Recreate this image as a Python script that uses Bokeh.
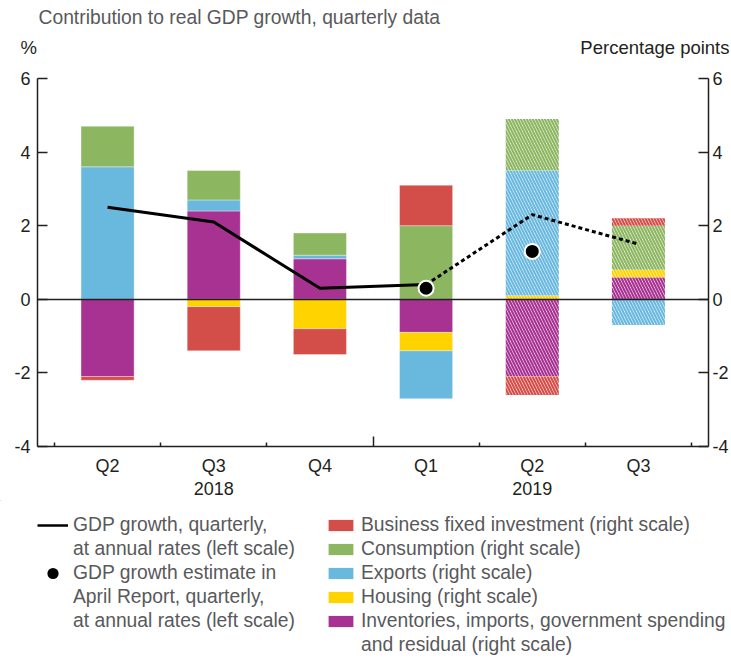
import numpy as np
from bokeh.plotting import figure
from bokeh.layouts import column
from bokeh.models import (Range1d, LinearAxis, FixedTicker, Label, Legend,
                          LegendItem, ColumnDataSource)
from bokeh.embed import file_html
from bokeh.resources import INLINE

# ---------------- data ----------------
quarters = ["Q2", "Q3", "Q4", "Q1", "Q2", "Q3"]
years = ["2018", "2019"]
year_pos = [1, 4]
projected = [False, False, False, False, True, True]

gdp_growth = [2.5, 2.1, 0.3, 0.4, 2.3, 1.5]          # left scale, %
april_pos = [3, 4]
april_estimate = [0.3, 1.3]                           # left scale, %

inventories = [-2.1, 2.4, 1.1, -0.9, -2.1, 0.6]       # right scale, pp
housing = [0.0, -0.2, -0.8, -0.5, 0.1, 0.2]
exports = [3.6, 0.3, 0.1, -1.3, 3.4, -0.7]
consumption = [1.1, 0.8, 0.6, 2.0, 1.4, 1.2]
business = [-0.1, -1.2, -0.7, 1.1, -0.5, 0.2]

y_ticks = [-4, -2, 0, 2, 4, 6]

title_text = "Contribution to real GDP growth, quarterly data"
left_unit = "%"
right_unit = "Percentage points"

RED = "#D34E48"
GREEN = "#8DB661"
BLUE = "#69B8DE"
YELLOW = "#FFD300"
PURPLE = "#A83291"
INK = "#231F20"
GREY = "#58595B"
FONT = "Liberation Sans"
W = 731
HEAD_H, MAIN_H, LEG_H = 60, 440, 158


def bare_fig(h):
    f = figure(width=W, height=h, x_range=Range1d(0, W), y_range=Range1d(h, 0),
               min_border=0, min_border_left=0, min_border_right=0,
               min_border_top=0, min_border_bottom=0, title=None,
               x_axis_location=None, y_axis_location=None, frame_align=False,
               output_backend="svg", toolbar_location=None)
    f.grid.visible = False
    f.outline_line_color = None
    return f


# ---------------- header ----------------
head = bare_fig(HEAD_H)
head.add_layout(Label(x=38, y=16.5, text=title_text, text_font=FONT,
                      text_font_size="19.3px", text_color=GREY,
                      text_baseline="middle", text_align="left"))
head.add_layout(Label(x=20, y=46.5, text=left_unit, text_font=FONT,
                      text_font_size="18.5px", text_color=INK,
                      text_baseline="middle", text_align="left"))
head.add_layout(Label(x=729, y=46.5, text=right_unit, text_font=FONT,
                      text_font_size="18.5px", text_color=INK,
                      text_baseline="middle", text_align="right"))

# ---------------- main chart ----------------
p = figure(width=W, height=MAIN_H, x_range=Range1d(-0.66, 5.66), y_range=Range1d(-4, 6),
           min_border_left=37, min_border_right=22, min_border_top=18, min_border_bottom=54,
           title=None, x_axis_location=None, y_axis_location=None, frame_align=False,
           output_backend="svg", toolbar_location=None)
p.grid.visible = False
p.outline_line_color = None

series = [
    ("inv", inventories, PURPLE),
    ("housing", housing, YELLOW),
    ("exports", exports, BLUE),
    ("consumption", consumption, GREEN),
    ("business", business, RED),
]
xs = np.arange(len(quarters))
proj = np.array(projected)
pos = np.zeros(len(quarters))
neg = np.zeros(len(quarters))
for name, vals, color in series:
    v = np.array(vals, dtype=float)
    bottom = np.where(v >= 0, pos, neg)
    top = bottom + v
    pos = np.where(v >= 0, top, pos)
    neg = np.where(v < 0, top, neg)
    a = ~proj
    src_a = ColumnDataSource(dict(x=xs[a], top=top[a], bottom=bottom[a]))
    p.vbar(x="x", top="top", bottom="bottom", width=0.5, source=src_a,
           fill_color=color, line_color="white", line_width=0.6, line_alpha=0.6)
    src_p = ColumnDataSource(dict(x=xs[proj], top=top[proj], bottom=bottom[proj]))
    p.vbar(x="x", top="top", bottom="bottom", width=0.5, source=src_p,
           fill_color="white", line_color=None, hatch_pattern="left_diagonal_line",
           hatch_color=color, hatch_scale=6, hatch_weight=2.2)

p.hspan(y=[0], line_color=INK, line_width=1.5)

n_act = int((~proj).sum())
p.line(x=list(xs[:n_act]), y=gdp_growth[:n_act], line_color="black",
       line_width=3, line_join="round")
p.line(x=list(xs[n_act - 1:]), y=gdp_growth[n_act - 1:], line_color="black",
       line_width=3, line_dash="4 3", line_join="round")
p.ellipse(x=april_pos, y=april_estimate, width=15, height=15,
          width_units="screen", height_units="screen",
          fill_color="black", line_color="white", line_width=2)


def style_y(ax, standoff):
    ax.ticker = FixedTicker(ticks=y_ticks)
    ax.major_label_overrides = {t: str(t) for t in y_ticks}
    ax.major_tick_in = 10
    ax.major_tick_out = 0
    ax.minor_tick_in = 0
    ax.minor_tick_out = 0
    ax.axis_line_width = 1.5
    ax.axis_line_color = INK
    ax.major_tick_line_width = 1.5
    ax.major_tick_line_color = INK
    ax.major_label_text_font = FONT
    ax.major_label_text_font_size = "18px"
    ax.major_label_text_color = INK
    ax.major_label_standoff = standoff


yl = LinearAxis()
style_y(yl, 7)
p.add_layout(yl, "left")
yr = LinearAxis()
style_y(yr, 4)
p.add_layout(yr, "right")

boundaries = [i - 0.5 for i in range(len(quarters) + 1)]
xa = LinearAxis(ticker=FixedTicker(ticks=[b for b in boundaries if b == 2.5],
                                   minor_ticks=[b for b in boundaries if b != 2.5]))
xa.major_tick_in = 10
xa.major_tick_out = 0
xa.minor_tick_in = 4
xa.minor_tick_out = 0
xa.axis_line_width = 1.5
xa.axis_line_color = INK
xa.major_tick_line_width = 1.5
xa.minor_tick_line_width = 1.5
xa.major_tick_line_color = INK
xa.minor_tick_line_color = INK
xa.major_label_overrides = {2.5: ""}
xa.major_label_text_font_size = "0px"
xa.major_label_text_alpha = 0
xa.major_label_standoff = 0
p.add_layout(xa, "below")


def label_axis(ticks, labels, standoff):
    ax = LinearAxis(ticker=FixedTicker(ticks=ticks),
                    major_label_overrides={t: s for t, s in zip(ticks, labels)})
    ax.axis_line_color = None
    ax.major_tick_line_color = None
    ax.minor_tick_line_color = None
    ax.major_tick_in = 0
    ax.major_tick_out = 0
    ax.minor_tick_in = 0
    ax.minor_tick_out = 0
    ax.major_label_text_font = FONT
    ax.major_label_text_font_size = "18px"
    ax.major_label_text_color = INK
    ax.major_label_standoff = standoff
    return ax


p.add_layout(label_axis(list(range(len(quarters))), quarters, 9), "below")
p.add_layout(label_axis(year_pos, years, 3), "below")

# ---------------- legend panel ----------------
leg = bare_fig(LEG_H)
OFF = -5000
lg_line = leg.line(x=[OFF, OFF + 1], y=[OFF, OFF], line_color="black", line_width=2.5)
lg_dot = leg.ellipse(x=[OFF], y=[OFF], width=13, height=13, width_units="screen",
                     height_units="screen", fill_color="black", line_color=None)
lg_blank = leg.scatter(x=[OFF], y=[OFF], fill_alpha=0, line_alpha=0)
lg_bar = {}
for key, color in [("business", RED), ("consumption", GREEN), ("exports", BLUE),
                   ("housing", YELLOW), ("inv", PURPLE)]:
    lg_bar[key] = leg.vbar(x=[OFF], top=[OFF + 1], bottom=[OFF], width=0.5,
                           fill_color=color, line_color=None)


def make_legend(items, loc):
    lg = Legend(items=items, location=loc, orientation="vertical",
                label_text_font=FONT, label_text_font_size="19.3px",
                label_text_color=GREY, glyph_width=31, glyph_height=14,
                label_height=22, spacing=2, padding=0, margin=0, label_standoff=5,
                border_line_color=None, background_fill_alpha=0)
    leg.add_layout(lg, "center")


make_legend([
    LegendItem(label="GDP growth, quarterly,", renderers=[lg_line]),
    LegendItem(label="at annual rates (left scale)", renderers=[lg_blank]),
    LegendItem(label="GDP growth estimate in", renderers=[lg_dot]),
    LegendItem(label="April Report, quarterly,", renderers=[lg_blank]),
    LegendItem(label="at annual rates (left scale)", renderers=[lg_blank]),
], (37, LEG_H - 14 - 118))

make_legend([
    LegendItem(label="Business fixed investment (right scale)", renderers=[lg_bar["business"]]),
    LegendItem(label="Consumption (right scale)", renderers=[lg_bar["consumption"]]),
    LegendItem(label="Exports (right scale)", renderers=[lg_bar["exports"]]),
    LegendItem(label="Housing (right scale)", renderers=[lg_bar["housing"]]),
    LegendItem(label="Inventories, imports, government spending", renderers=[lg_bar["inv"]]),
    LegendItem(label="and residual (right scale)", renderers=[lg_blank]),
], (325, LEG_H - 14 - 142))

layout = column(head, p, leg, spacing=0)
open("out.html", "w").write(file_html(layout, INLINE))
